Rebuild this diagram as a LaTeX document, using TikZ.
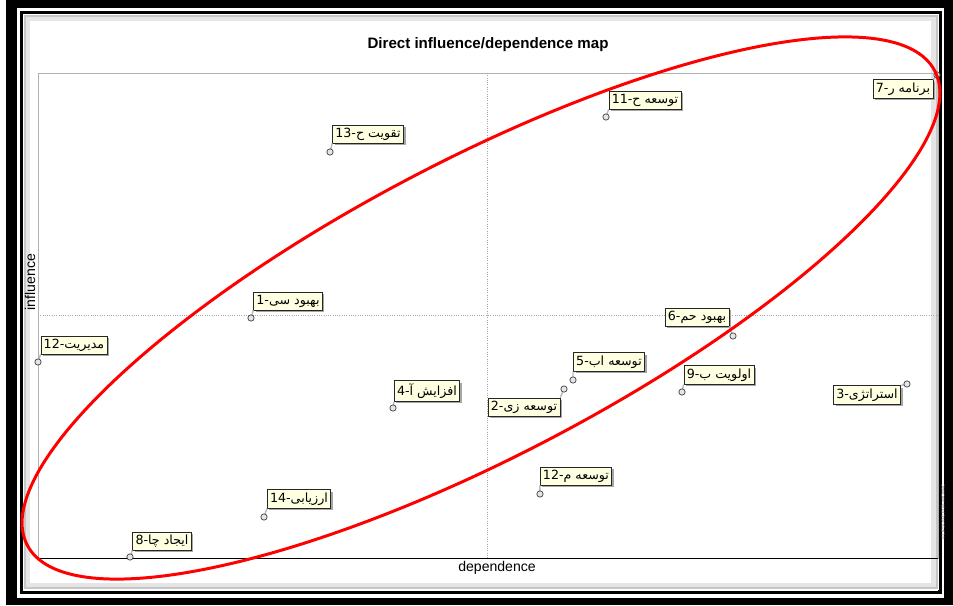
\documentclass[tikz,border=0pt]{standalone}
\usepackage{fontspec}
\setmainfont{Liberation Sans}
\newfontfamily\arabicfont[Script=Arabic]{DejaVu Sans}
\TeXXeTstate=1
\usetikzlibrary{positioning,calc,shadows}

\definecolor{tagfill}{HTML}{FFFFE1}
\newcommand{\fl}[2]{\beginR #1-\beginL #2\endL\endR}

\tikzset{
  pt/.style={circle,draw=black!75,fill=gray!20,inner sep=0pt,minimum size=3.6pt},
  tag/.style={draw=black!85,fill=tagfill,inner sep=1.6pt,
    font=\arabicfont\fontsize{7.2}{8}\selectfont,
    drop shadow={shadow xshift=1.2pt,shadow yshift=-1.2pt,fill=gray!70,opacity=1}},
  lead/.style={draw=gray!55,line width=0.8pt},
  grid line/.style={draw=gray!70,densely dotted,line width=0.3pt}
}

\begin{document}
\begin{tikzpicture}[x=0.02cm,y=-0.02cm]
    \useasboundingbox (0,0) rectangle (953,605);
    \fill[white] (0,0) rectangle (953,605);
    % frames
    \fill[black] (6,0) rectangle (953,605);
    \fill[white] (17,8) rectangle (944,598);
    \draw[line width=2pt] (21.5,12.5) rectangle (940,592.5);
    \fill[white] (23,14) rectangle (938.5,590);
    \draw[gray!45,line width=1.5pt] (25,16) rectangle (936.5,588);
    \draw[gray!20,line width=2.5pt] (28,19) rectangle (933.5,585);

    % plot area
    \draw[gray!60,line width=0.4pt] (38,73) rectangle (938,558);
    \draw[line width=0.5pt] (38,558) -- (938,558);
    \draw[grid line] (487,73) -- (487,558);
    \draw[grid line] (38,315) -- (938,315);

    \node (title) at (488,45) {\fontsize{8.6}{10}\selectfont\bfseries Direct influence/dependence map};
    \node (xlab) at (497,568) {\fontsize{8}{9}\selectfont dependence};
    \node[rotate=90] (ylab) at (30,282) {\fontsize{8}{9}\selectfont influence};
    \node[rotate=90,gray] (copy) at (943,512) {\fontsize{2.6}{3}\selectfont \textcopyright{} LIPSOR-EPITA-MICMAC};

    % variables: point, label centre, anchor of the leader
    \foreach \nm/\px/\py/\lx/\ly/\anc/\txt/\num in {
        13/330/152/368/134/south west/تقویت ح/13,
        11/606/117/645/100/south west/توسعه ح/11,
        7/937/75/903/89/north east/برنامه ر/7,
        1/251/318/288/301/south west/بهبود سی/1,
        12a/38/362/74/345/south west/مدیریت/12,
        6/733/336/697/317/south east/بهبود حم/6,
        4/393/408/427/391/south west/افزایش آ/4,
        5/573/380/609/362/south west/توسعه اب/5,
        2/564/389/524/407/north east/توسعه زی/2,
        9/682/392/719/375/south west/اولویت ب/9,
        3/907/384/867/395/north east/استراتژی/3,
        12b/540/494/576/476/south west/توسعه م/12,
        14/264/517/299/499/south west/ارزیابی/14,
        8/130/557/162/541/south west/ایجاد چا/8} {
        \node[tag] (l\nm) at (\lx,\ly) {\fl{\txt}{\num}};
        \draw[lead] (\px,\py) -- (l\nm.\anc);
        \node[pt] (p\nm) at (\px,\py) {};
    }

    % cluster
    \draw[red,line width=1.7pt] (481,308) ellipse [x radius=512,y radius=148,rotate=27.6];
\end{tikzpicture}
\end{document}
